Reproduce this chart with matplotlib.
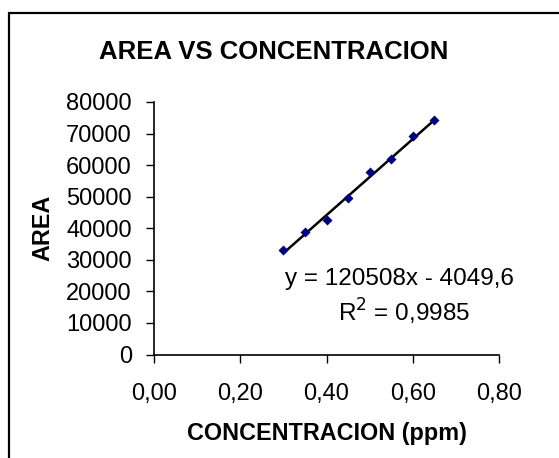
import matplotlib
matplotlib.use("Agg")
import matplotlib.pyplot as plt
from matplotlib.patches import Rectangle
from matplotlib.ticker import FuncFormatter

plt.rcParams['font.family'] = ['Liberation Sans', 'DejaVu Sans']

# concentracion (ppm) vs area
conc = [0.30, 0.35, 0.40, 0.45, 0.50, 0.55, 0.60, 0.65]
area = [33200, 38900, 42700, 49600, 57900, 62000, 69300, 74300]

# trendline reported on the chart
slope = 120508
intercept = -4049.6
eq_text = "y = 120508x - 4049,6"
r2_text = "R$^2$ = 0,9985"

fig = plt.figure(figsize=(5.59, 4.58), dpi=100)
fig.patch.set_facecolor("white")

# outer chart border (right/bottom edges run off the image)
fig.patches.append(Rectangle((9 / 559, -0.05), 1.2, 0.05 + 1 - 13.5 / 458,
                             transform=fig.transFigure, fill=False,
                             edgecolor="black", linewidth=1.6))

ax = fig.add_axes([154 / 559, 1 - 354.5 / 458, (499 - 154) / 559, (354.5 - 102) / 458])

ax.scatter(conc, area, marker="D", s=26, color="#000080", zorder=3, linewidths=0)
fit_x = [conc[0], conc[-1]]
fit_y = [slope * v + intercept for v in fit_x]
ax.plot(fit_x, fit_y, color="black", linewidth=1.8, zorder=2)

ax.set_xlim(0, 0.8)
ax.set_ylim(0, 80000)
ax.set_xticks([0, 0.2, 0.4, 0.6, 0.8])
ax.set_yticks(range(0, 80001, 10000))
ax.xaxis.set_major_formatter(FuncFormatter(lambda v, p: f"{v:.2f}".replace(".", ",")))
ax.yaxis.set_major_formatter(FuncFormatter(lambda v, p: f"{int(v)}"))

for s in ["top", "right"]:
    ax.spines[s].set_visible(False)
for s in ["left", "bottom"]:
    ax.spines[s].set_linewidth(1.2)
    ax.spines[s].set_color("black")

ax.tick_params(axis="both", direction="out", length=6, width=1, labelsize=17, colors="black")
ax.tick_params(axis="y", pad=10)
ax.tick_params(axis="x", pad=14.5)

fig.text(273.5 / 559, 1 - 52 / 458, "AREA VS CONCENTRACION", fontsize=18.5,
         fontweight="bold", ha="center", va="center")
ax.set_xlabel("CONCENTRACION (ppm)", fontsize=16.8, fontweight="bold", labelpad=12)
ax.set_ylabel("AREA", fontsize=16.8, fontweight="bold", labelpad=8)

ax.text(0.57, 22000, eq_text, fontsize=17.5, ha="center", va="baseline")
ax.text(0.58, 10300, r2_text, fontsize=17.5, ha="center", va="baseline")

fig.savefig("out.png", dpi=100)
